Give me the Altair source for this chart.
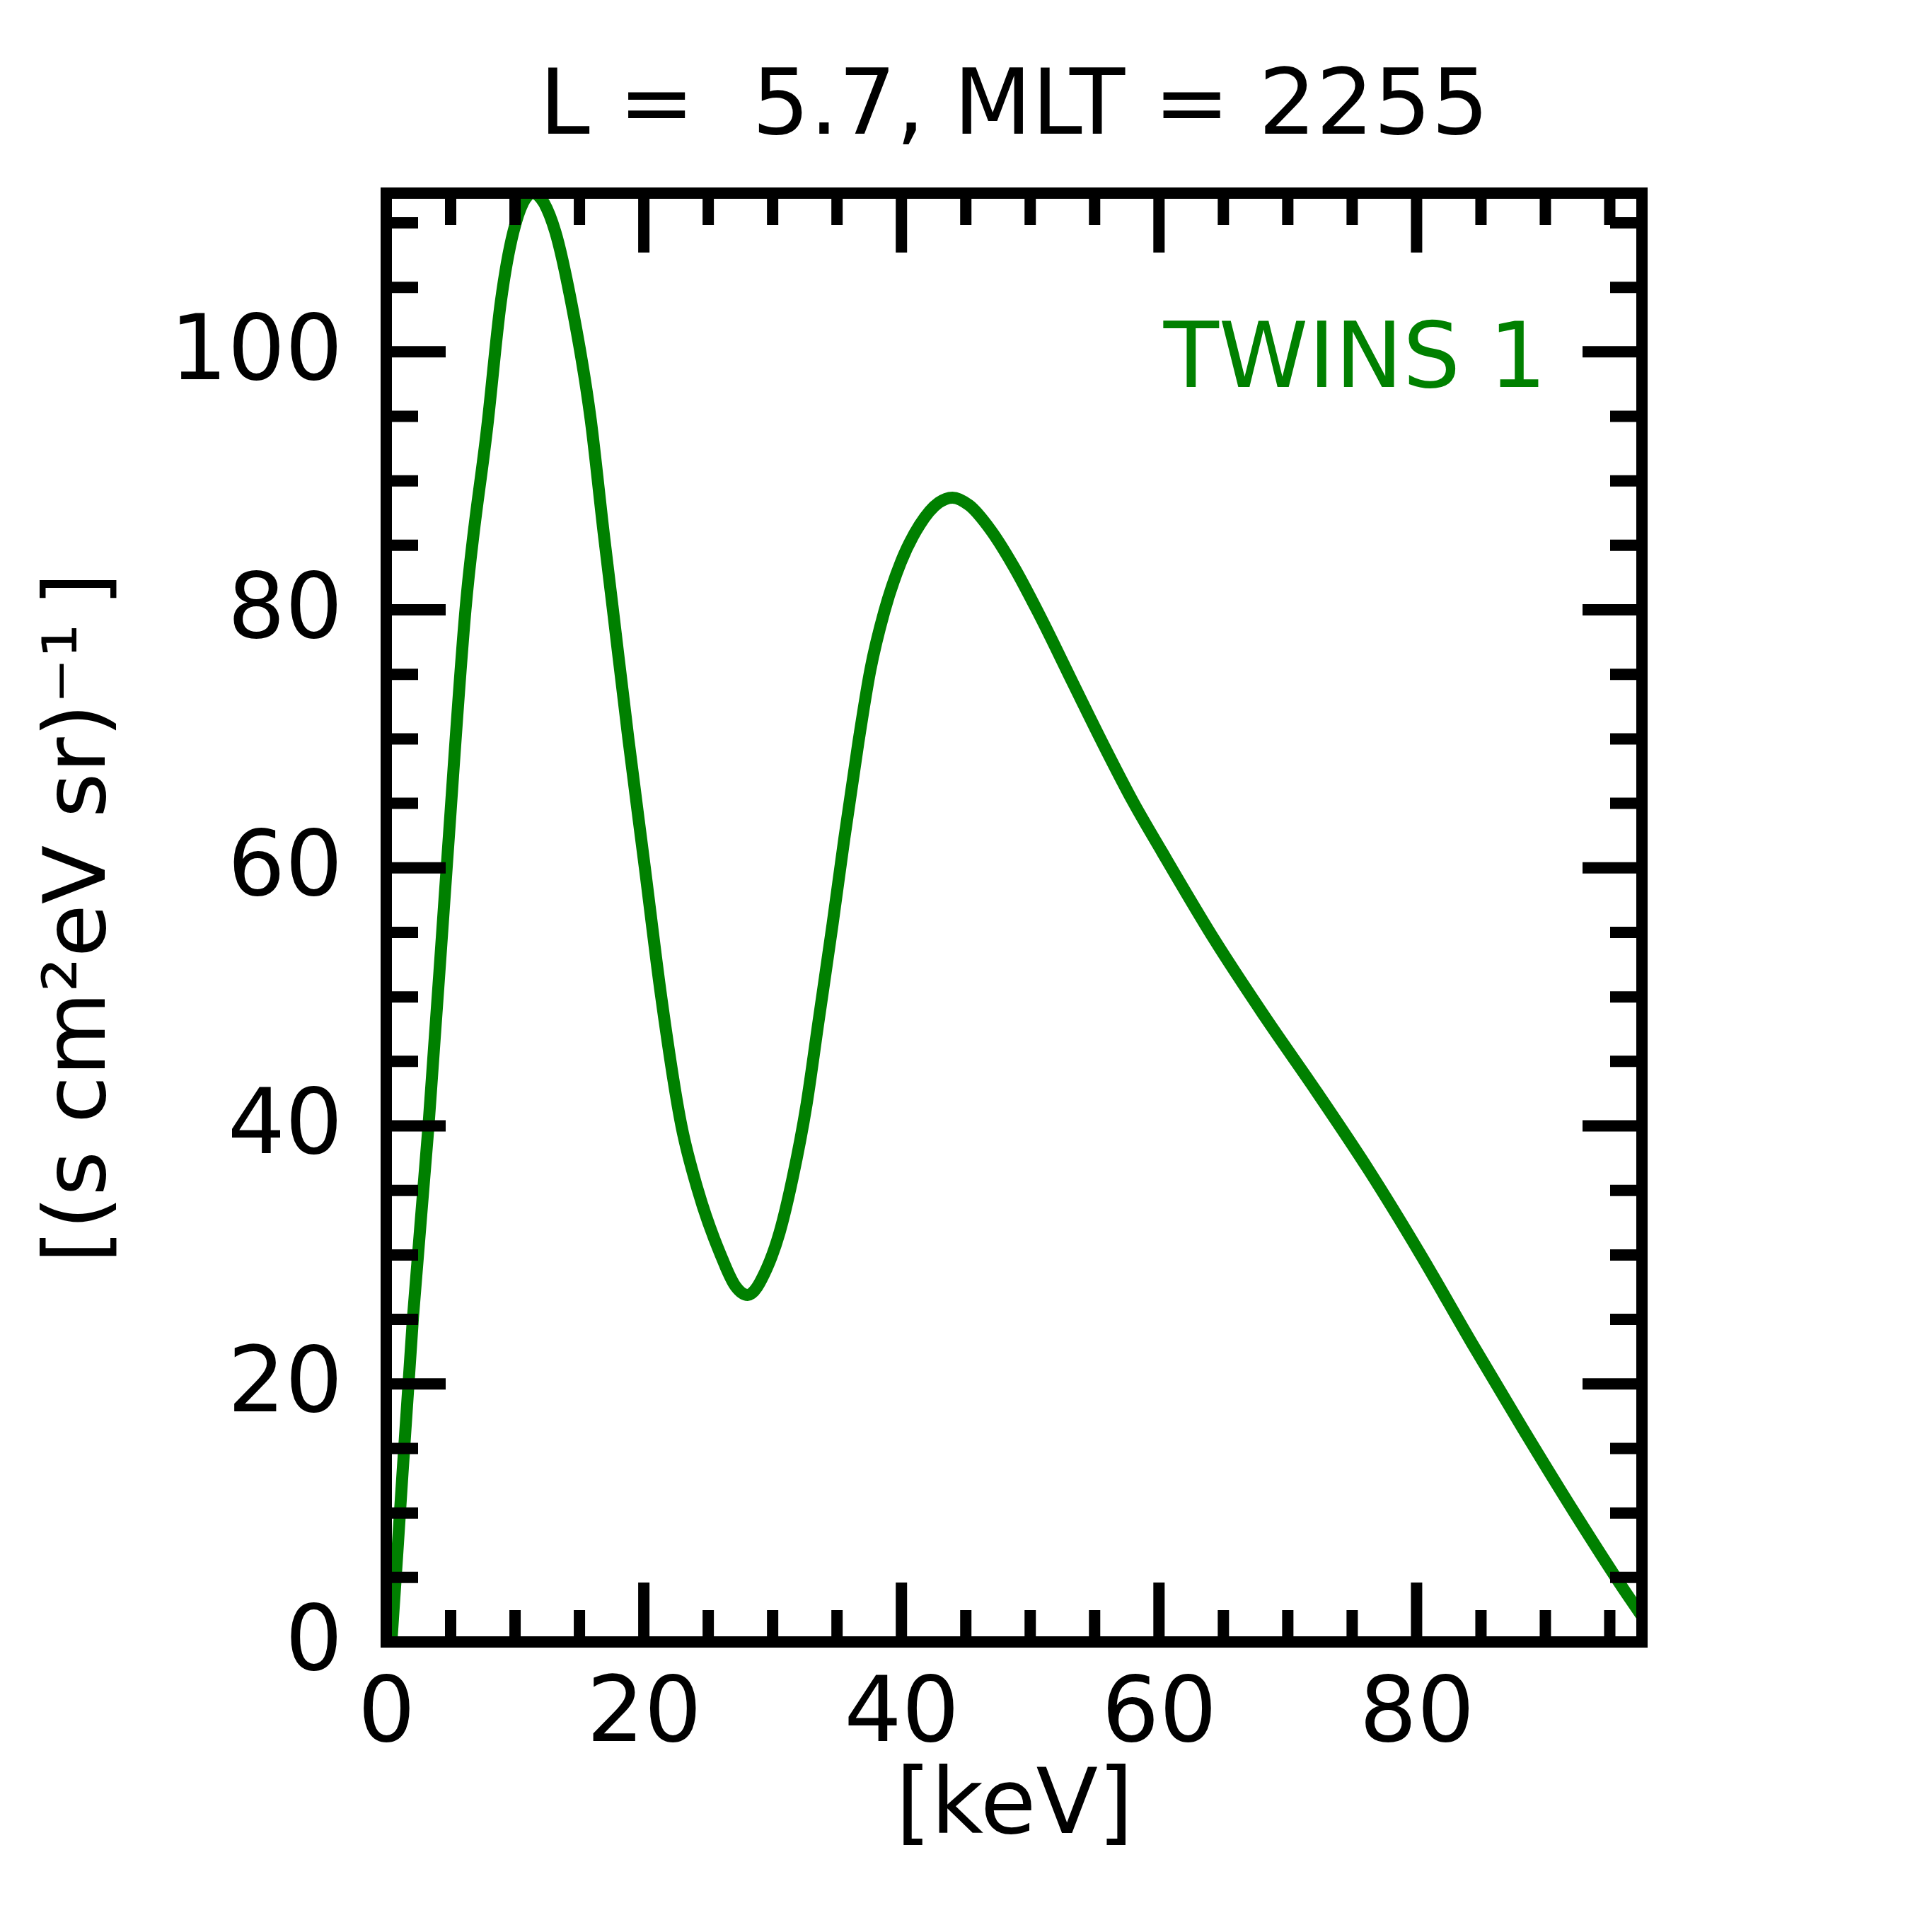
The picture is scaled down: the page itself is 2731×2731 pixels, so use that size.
import altair as alt
import pandas as pd

# ---- data ----
energy = [0.4, 0.84, 2.07, 3.28, 4.69, 6.15, 7.9, 8.9, 9.87, 11.37,
          13.13, 14.35, 15.88, 16.9, 17.6, 18.80, 20.08, 21.35, 22.92, 24.20,
          25.97, 27.1, 28.06, 29.52, 30.53, 31.54, 32.64, 33.55, 34.65, 35.57,
          36.67, 37.58, 38.68, 39.96, 41.43, 42.89, 43.96, 45.27, 46.92, 48.75,
          50.77, 53.33, 55.71, 58.0, 60.26, 64.26, 68.26, 72.27, 76.27, 80.27,
          84.27, 88.27, 92.27, 96.27, 97.5]
flux = [0.0, 6.6, 25.1, 40.0, 60.0, 80.0, 94.7, 103.9, 109.3, 112.3,
        109.3, 103.9, 94.7, 85.8, 80.0, 70.0, 60.0, 50.0, 40.0, 35.0,
        30.0, 27.6, 26.9, 28.9, 31.7, 35.9, 41.7, 48.0, 55.6, 62.3,
        69.8, 75.3, 79.9, 83.7, 86.6, 88.3, 88.7, 88.1, 86.2, 83.3,
        79.5, 74.3, 69.5, 65.1, 61.2, 54.5, 48.4, 42.6, 36.6, 30.1,
        23.2, 16.5, 10.0, 3.8, 2.0]

x_major = [0, 20, 40, 60, 80]
x_minor = [5, 10, 15, 25, 30, 35, 45, 50, 55, 65, 70, 75, 85, 90, 95]
y_major = [0, 20, 40, 60, 80, 100]
y_minor = [5, 10, 15, 25, 30, 35, 45, 50, 55, 65, 70, 75, 85, 90, 95, 105, 110]

x_domain = [0, 97.5]
y_domain = [0, 112.3]

title_text = "L = \u00a05.7, MLT = 2255"
x_title = "[keV]"
y_title = "[(s cm\u00b2eV sr)\u207b\u00b9\u2009]"
label_text = ["TWINS 1"]
label_x = [90.1]
label_y = [97.3]

# ---- layout / style ----
W, H = 1775, 2048
MAJOR, MINOR = 84, 45
TICK_W = 16
FONT = "DejaVu Sans"
GREEN = "#008000"
FS = 128

x_axis = alt.Axis(title=x_title, values=x_major, format="d", grid=False,
                  domain=False, ticks=False, tickSize=0,
                  labelFont=FONT, labelFontSize=FS, labelColor="black",
                  labelPadding=38, labelFlush=False, labelLimit=1000,
                  titleFont=FONT, titleFontSize=FS, titleFontWeight="normal",
                  titleColor="black", titleBaseline="alphabetic", titleY=269)
y_axis = alt.Axis(title=y_title, values=y_major, format="d", grid=False,
                  domain=False, ticks=False, tickSize=0,
                  labelFont=FONT, labelFontSize=FS, labelColor="black",
                  labelPadding=62, labelFlush=False, labelLimit=1000,
                  titleFont=FONT, titleFontSize=122, titleFontWeight="normal",
                  titleColor="black", titleBaseline="alphabetic", titleX=-399,
                  titleAngle=270, titleLimit=3000)

xs = alt.Scale(domain=x_domain, nice=False, zero=False)
ys = alt.Scale(domain=y_domain, nice=False, zero=False)


def X(field):
    return alt.X(field, type="quantitative", scale=xs, axis=x_axis)


def Y(field):
    return alt.Y(field, type="quantitative", scale=ys, axis=y_axis)


curve = pd.DataFrame({"energy": energy, "flux": flux})
line = alt.Chart(curve).mark_line(color=GREEN, strokeWidth=17, clip=True,
                                  interpolate="monotone").encode(
    x=X("energy"), y=Y("flux"))

layers = [line]


def xticks(vals, length):
    df = pd.DataFrame({"energy": vals})
    top = alt.Chart(df).mark_rule(color="black", strokeWidth=TICK_W).encode(
        x=X("energy"), y=alt.value(0), y2=alt.value(length))
    bot = alt.Chart(df).mark_rule(color="black", strokeWidth=TICK_W).encode(
        x=X("energy"), y=alt.value(H - length), y2=alt.value(H))
    return [top, bot]


def yticks(vals, length):
    df = pd.DataFrame({"flux": vals})
    left = alt.Chart(df).mark_rule(color="black", strokeWidth=TICK_W).encode(
        y=Y("flux"), x=alt.value(0), x2=alt.value(length))
    right = alt.Chart(df).mark_rule(color="black", strokeWidth=TICK_W).encode(
        y=Y("flux"), x=alt.value(W - length), x2=alt.value(W))
    return [left, right]


layers += xticks(x_major, MAJOR) + xticks(x_minor, MINOR)
layers += yticks(y_major, MAJOR) + yticks(y_minor, MINOR)

frame = alt.Chart(pd.DataFrame({"k": [0]})).mark_rect(
    filled=False, stroke="black", strokeWidth=16).encode(
    x=alt.value(0), x2=alt.value(W), y=alt.value(0), y2=alt.value(H))
layers.append(frame)

lab = pd.DataFrame({"energy": label_x, "flux": label_y, "label": label_text})
text = alt.Chart(lab).mark_text(align="right", baseline="alphabetic",
                                font=FONT, fontSize=FS, color=GREEN).encode(
    x=X("energy"), y=Y("flux"), text="label:N")
layers.append(text)

chart = alt.layer(*layers).properties(
    width=W, height=H,
    title=alt.TitleParams(text=title_text, font=FONT, fontSize=FS,
                          fontWeight="normal", color="black", anchor="middle",
                          baseline="alphabetic", offset=-52),
    autosize=alt.AutoSizeParams(type="none"),
    padding={"left": 538, "top": 265, "right": 400, "bottom": 400},
).configure_view(stroke=None).configure(font=FONT, background="white")

chart.save("out.html", embed_options={"renderer": "svg", "actions": False})
